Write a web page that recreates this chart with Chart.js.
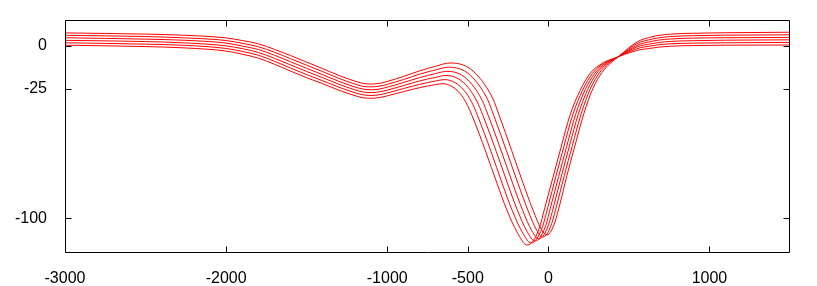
<!DOCTYPE html>
<html>
<head>
<meta charset="utf-8">
<script src="https://cdn.jsdelivr.net/npm/chart.js@4.4.1/dist/chart.umd.min.js"></script>
<style>
  html, body { margin: 0; padding: 0; background: #ffffff; }
  #wrap { width: 817px; height: 286px; }
</style>
</head>
<body>
<div id="wrap"><canvas id="c" width="817" height="286"></canvas></div>
<script>
// Tick labels
const xTicks = [-3000, -2000, -1000, -500, 0, 1000];
const yTicks = [-100, -25, 0];

// Shared x positions: left (parallel) part and right plateau
const xLeft = [-3000, -2500, -2250, -2000, -1900, -1800, -1700, -1600, -1500, -1400, -1300, -1200, -1150, -1100, -1050, -1000, -950, -900, -800, -700];
const xRight = [432, 475, 520, 570, 620, 680, 760, 900, 1100, 1500];

// Curve A (lowest hump, deepest minimum)
const yLeftA = [0.2, -0.6, -1.4, -3.2, -5.0, -7.3, -10.8, -14.8, -18.6, -22.1, -25.8, -29.0, -30.2, -30.5, -30.1, -29.1, -27.9, -26.7, -24.4, -22.6];
const xMidA = [-654, -598, -548, -511, -474, -387, -319, -257, -194, -132, -95, -58, -21, 29, 79, 134, 197, 259, 333];
const yMidA = [-22.1, -23.7, -27.7, -32.9, -40.4, -61.7, -79.6, -95.2, -107.9, -115.4, -113.1, -106.2, -93.5, -76.2, -58.8, -40.4, -26.0, -16.2, -10.4];
const yRightA = [-6.6, -5.0, -3.7, -2.4, -1.8, -1.0, -0.4, 0.0, 0.2, 0.3];

// Curve B
const yLeftB = [1.6, 0.8, 0.1, -1.7, -3.4, -5.6, -9.1, -13.0, -16.8, -20.4, -24.1, -27.3, -28.5, -28.9, -28.5, -27.4, -26.2, -24.9, -22.5, -20.5];
const xMidB = [-645, -578, -523, -477, -440, -355, -287, -225, -163, -107, -73, -38, -2, 46, 96, 151, 213, 274, 343];
const yMidB = [-19.7, -21.5, -26.0, -32.5, -40.4, -61.5, -79.6, -95.2, -107.7, -114.2, -111.9, -105.4, -93.1, -76.0, -58.6, -40.2, -25.8, -16.1, -10.4];
const yRightB = [-6.6, -4.7, -2.9, -1.3, -0.5, 0.4, 1.0, 1.4, 1.6, 1.8];

// Curve C
const yLeftC = [3.0, 2.3, 1.5, -0.2, -1.8, -4.0, -7.4, -11.2, -15.0, -18.6, -22.4, -25.6, -26.9, -27.2, -26.8, -25.8, -24.5, -23.2, -20.5, -18.4];
const xMidC = [-636, -559, -498, -444, -406, -323, -254, -192, -133, -82, -50, -18, 16, 64, 114, 169, 229, 289, 353];
const yMidC = [-17.3, -19.2, -24.2, -32.1, -40.4, -61.3, -79.6, -95.2, -107.4, -113.1, -110.8, -104.6, -92.8, -75.7, -58.4, -39.9, -25.5, -16.0, -10.4];
const yRightC = [-6.6, -4.3, -2.1, -0.2, 0.7, 1.7, 2.4, 2.8, 3.1, 3.3];

// Curve D
const yLeftD = [4.5, 3.7, 3.0, 1.4, -0.3, -2.3, -5.6, -9.4, -13.2, -16.9, -20.7, -24.0, -25.2, -25.6, -25.2, -24.1, -22.8, -21.4, -18.6, -16.2];
const xMidD = [-628, -539, -474, -410, -373, -292, -222, -160, -102, -58, -28, 1, 35, 81, 131, 186, 245, 303, 363];
const yMidD = [-14.9, -17.0, -22.5, -31.8, -40.4, -61.0, -79.6, -95.2, -107.2, -111.9, -109.6, -103.7, -92.4, -75.5, -58.1, -39.7, -25.3, -15.8, -10.4];
const yRightD = [-6.6, -4.0, -1.4, 0.8, 2.0, 3.1, 3.8, 4.3, 4.5, 4.7];

// Curve E
const yLeftE = [5.9, 5.2, 4.4, 2.9, 1.3, -0.7, -3.9, -7.6, -11.4, -15.1, -19.0, -22.3, -23.6, -23.9, -23.5, -22.5, -21.1, -19.7, -16.6, -14.1];
const xMidE = [-619, -520, -449, -376, -339, -260, -189, -127, -72, -33, -5, 21, 53, 99, 149, 204, 261, 318, 373];
const yMidE = [-12.5, -14.7, -20.7, -31.4, -40.4, -60.8, -79.6, -95.2, -106.9, -110.8, -108.5, -102.9, -92.1, -75.2, -57.9, -39.4, -25.0, -15.7, -10.4];
const yRightE = [-6.6, -3.6, -0.6, 1.9, 3.2, 4.4, 5.2, 5.7, 6.0, 6.2];

// Curve F (highest hump, shallowest minimum)
const yLeftF = [7.3, 6.6, 5.9, 4.4, 2.9, 1.0, -2.2, -5.8, -9.6, -13.4, -17.3, -20.6, -21.9, -22.3, -21.9, -20.8, -19.4, -17.9, -14.7, -12.0];
const xMidF = [-610, -500, -424, -343, -305, -228, -157, -95, -41, -8, 17, 41, 72, 116, 166, 221, 277, 333, 383];
const yMidF = [-10.1, -12.5, -19.0, -31.0, -40.4, -60.6, -79.6, -95.2, -106.7, -109.6, -107.3, -102.1, -91.7, -75.0, -57.7, -39.2, -24.8, -15.6, -10.4];
const yRightF = [-6.6, -3.3, 0.2, 3.0, 4.5, 5.8, 6.6, 7.1, 7.4, 7.7];

const curves = [
  [yLeftA, xMidA, yMidA, yRightA],
  [yLeftB, xMidB, yMidB, yRightB],
  [yLeftC, xMidC, yMidC, yRightC],
  [yLeftD, xMidD, yMidD, yRightD],
  [yLeftE, xMidE, yMidE, yRightE],
  [yLeftF, xMidF, yMidF, yRightF]
];

function toPoints(yl, xm, ym, yr) {
  const pts = [];
  xLeft.forEach((x, i) => pts.push({x: x, y: yl[i]}));
  xm.forEach((x, i) => pts.push({x: x, y: ym[i]}));
  xRight.forEach((x, i) => pts.push({x: x, y: yr[i]}));
  return pts;
}

const datasets = curves.map(c => ({
  data: toPoints(c[0], c[1], c[2], c[3]),
  borderColor: '#ff0000',
  borderWidth: 1,
  pointRadius: 0,
  fill: false,
  cubicInterpolationMode: 'monotone'
}));

const frame = {
  id: 'frame',
  afterDraw(chart) {
    const ctx = chart.ctx;
    const a = chart.chartArea;
    const xs = chart.scales.x, ys = chart.scales.y;
    const L = Math.round(a.left) + 0.5, R = Math.round(a.right) - 0.5;
    const T = Math.round(a.top) + 0.5, B = Math.round(a.bottom) - 0.5;
    const tl = 6;
    ctx.save();
    ctx.strokeStyle = '#000000';
    ctx.lineWidth = 1;
    ctx.beginPath();
    ctx.rect(L, T, R - L, B - T);
    xTicks.forEach(v => {
      const p = Math.round(xs.getPixelForValue(v)) + 0.5;
      ctx.moveTo(p, B); ctx.lineTo(p, B - tl);
      ctx.moveTo(p, T); ctx.lineTo(p, T + tl);
    });
    yTicks.forEach(v => {
      const p = Math.round(ys.getPixelForValue(v)) + 0.5;
      ctx.moveTo(L, p); ctx.lineTo(L + tl, p);
      ctx.moveTo(R, p); ctx.lineTo(R - tl, p);
    });
    ctx.stroke();
    ctx.restore();
  }
};

new Chart(document.getElementById('c'), {
  type: 'line',
  data: { datasets: datasets },
  options: {
    responsive: false,
    animation: false,
    events: [],
    layout: { padding: { top: 19, right: 27, left: 0, bottom: 0 } },
    plugins: { legend: { display: false }, tooltip: { enabled: false } },
    scales: {
      x: {
        type: 'linear',
        min: -3000, max: 1500,
        grid: { display: false },
        border: { display: false },
        afterBuildTicks: s => { s.ticks = xTicks.map(v => ({value: v})); },
        afterFit: s => { s.height = 33; },
        ticks: {
          color: '#000000',
          padding: 8,
          maxRotation: 0,
          autoSkip: false,
          font: { family: 'Liberation Sans, Arial, sans-serif', size: 16 },
          callback: v => String(v)
        }
      },
      y: {
        type: 'linear',
        min: -120, max: 15,
        grid: { display: false },
        border: { display: false },
        afterBuildTicks: s => { s.ticks = yTicks.map(v => ({value: v})); },
        afterFit: s => { s.width = 65; },
        ticks: {
          color: '#000000',
          padding: 10,
          autoSkip: false,
          font: { family: 'Liberation Sans, Arial, sans-serif', size: 16 },
          callback: v => String(v)
        }
      }
    }
  },
  plugins: [frame]
});
</script>
</body>
</html>
